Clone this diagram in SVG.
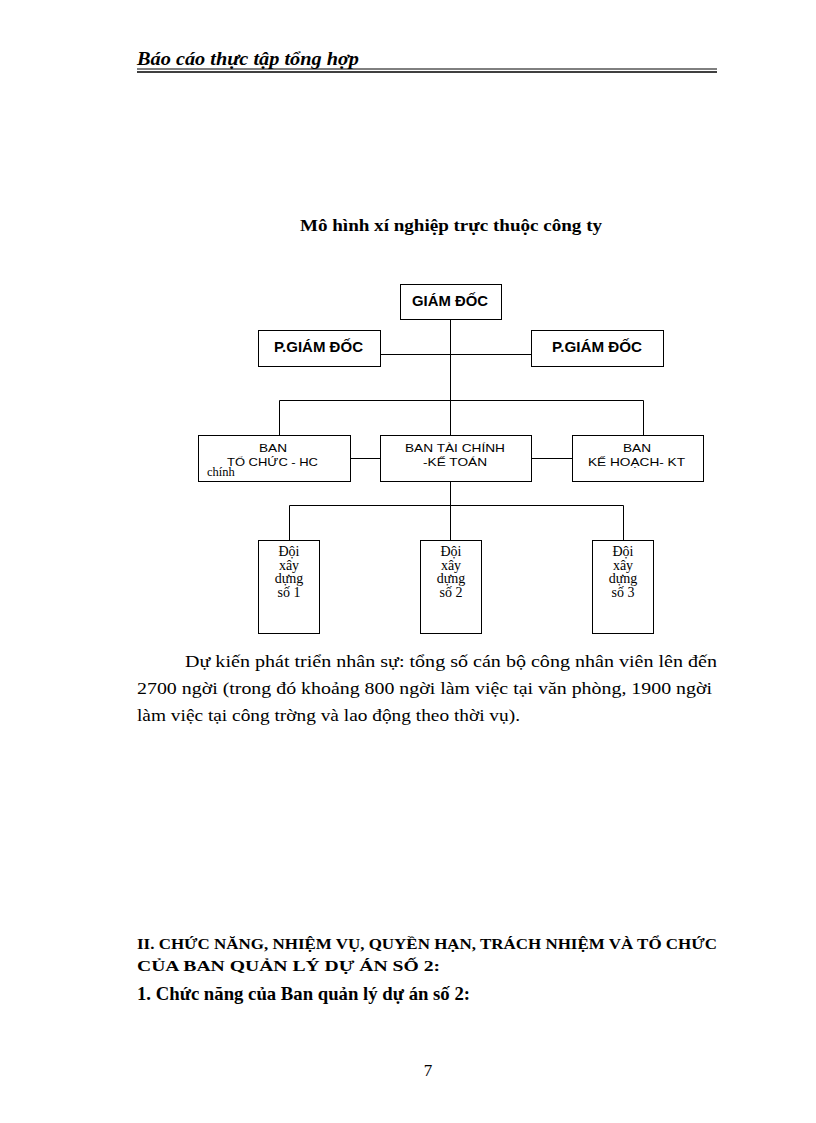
<svg xmlns="http://www.w3.org/2000/svg" width="816" height="1123" viewBox="0 0 816 1123">
<style>
.box{fill:#fff;stroke:#000;stroke-width:1}
.ln{stroke:#000;stroke-width:1;fill:none}
.bx{font-family:"Liberation Sans",Arial,sans-serif;font-weight:bold;font-size:14px;fill:#000}
.bs{font-family:"Liberation Sans",Arial,sans-serif;font-size:11px;fill:#000}
.tm{font-family:"Liberation Serif","Times New Roman",serif;fill:#000}
</style>
<rect width="816" height="1123" fill="#fff"/>
<g id="header">
<text x="137" y="65" class="tm" font-size="18" font-style="italic" font-weight="bold" textLength="222" lengthAdjust="spacingAndGlyphs">Báo cáo thực tập tổng hợp</text>
<line x1="137" y1="69" x2="717" y2="69" stroke="#000" stroke-width="1"/>
<line x1="137" y1="72" x2="717" y2="72" stroke="#000" stroke-width="1.6"/>
</g>
<text x="300" y="231" class="tm" font-size="17" font-weight="bold" textLength="302" lengthAdjust="spacingAndGlyphs">Mô hình xí nghiệp trực thuộc công ty</text>
<g id="connectors">
<path class="ln" d="M450.5 319V435M380 354.5H532M279.5 435V400.5H643.5V435M350 458.5H380M532 458.5H572M450.5 482V540M289.5 540V505.5H623.5V540"/>
</g>
<g id="giamdoc">
<rect class="box" x="400.5" y="284.5" width="101" height="35"/>
<text class="bx" x="412" y="306" textLength="76" lengthAdjust="spacingAndGlyphs">GIÁM ĐỐC</text>
</g>
<g id="pgd1">
<rect class="box" x="258.5" y="330.5" width="122" height="36"/>
<text class="bx" x="274" y="352" textLength="89" lengthAdjust="spacingAndGlyphs">P.GIÁM ĐỐC</text>
</g>
<g id="pgd2">
<rect class="box" x="531.5" y="330.5" width="132" height="36"/>
<text class="bx" x="552" y="352" textLength="90" lengthAdjust="spacingAndGlyphs">P.GIÁM ĐỐC</text>
</g>
<g id="ban-tchc">
<rect class="box" x="198.5" y="435.5" width="152" height="46"/>
<text class="bs" x="259" y="452" textLength="28" lengthAdjust="spacingAndGlyphs">BAN</text>
<text class="bs" x="227" y="466" textLength="91" lengthAdjust="spacingAndGlyphs">TỔ CHỨC  - HC</text>
<text class="tm" x="207" y="476" font-size="12.5">chính</text>
</g>
<g id="ban-tckt">
<rect class="box" x="380.5" y="435.5" width="151" height="46"/>
<text class="bs" x="405" y="452" textLength="100" lengthAdjust="spacingAndGlyphs">BAN  TÀI CHÍNH</text>
<text class="bs" x="423" y="466" textLength="64" lengthAdjust="spacingAndGlyphs">-KẾ TOÁN</text>
</g>
<g id="ban-khkt">
<rect class="box" x="572.5" y="435.5" width="131" height="46"/>
<text class="bs" x="623" y="452" textLength="28" lengthAdjust="spacingAndGlyphs">BAN</text>
<text class="bs" x="588" y="466" textLength="97" lengthAdjust="spacingAndGlyphs">KẾ HOẠCH-  KT</text>
</g>
<g id="doi1">
<rect class="box" x="258.5" y="540.5" width="61" height="93"/>
<text class="tm" font-size="14" text-anchor="middle"><tspan x="289" y="556">Đội</tspan><tspan x="289" y="569.5">xây</tspan><tspan x="289" y="583">dựng</tspan><tspan x="289" y="596.5">số 1</tspan></text>
</g>
<g id="doi2">
<rect class="box" x="420.5" y="540.5" width="61" height="93"/>
<text class="tm" font-size="14" text-anchor="middle"><tspan x="451" y="556">Đội</tspan><tspan x="451" y="569.5">xây</tspan><tspan x="451" y="583">dựng</tspan><tspan x="451" y="596.5">số 2</tspan></text>
</g>
<g id="doi3">
<rect class="box" x="592.5" y="540.5" width="61" height="93"/>
<text class="tm" font-size="14" text-anchor="middle"><tspan x="623" y="556">Đội</tspan><tspan x="623" y="569.5">xây</tspan><tspan x="623" y="583">dựng</tspan><tspan x="623" y="596.5">số 3</tspan></text>
</g>
<g id="paragraph" class="tm" font-size="17">
<text x="185" y="667" textLength="532" lengthAdjust="spacingAndGlyphs">Dự kiến phát triển nhân sự: tổng số cán bộ công nhân viên lên đến</text>
<text x="137" y="694" textLength="575" lengthAdjust="spacingAndGlyphs">2700 ngời   (trong đó khoảng 800 ngời   làm việc tại văn phòng, 1900 ngời</text>
<text x="137" y="721" textLength="383" lengthAdjust="spacingAndGlyphs">làm việc tại công trờng   và lao động theo thời vụ).</text>
</g>
<g id="section" class="tm" font-weight="bold">
<text x="137" y="949" font-size="15" textLength="580" lengthAdjust="spacingAndGlyphs">II.  CHỨC NĂNG, NHIỆM VỤ, QUYỀN HẠN, TRÁCH NHIỆM VÀ TỔ CHỨC</text>
<text x="137" y="971" font-size="15" textLength="303" lengthAdjust="spacingAndGlyphs">CỦA BAN QUẢN LÝ DỰ ÁN SỐ 2:</text>
<text x="137" y="1000" font-size="19" textLength="333" lengthAdjust="spacingAndGlyphs">1. Chức năng của Ban quản lý dự án số 2:</text>
</g>
<text x="428" y="1076" class="tm" font-size="17" text-anchor="middle">7</text>
</svg>
